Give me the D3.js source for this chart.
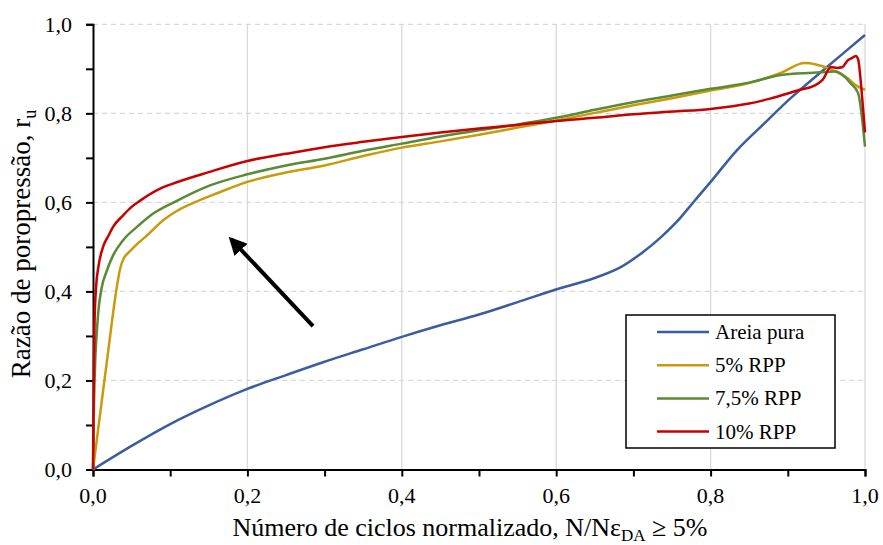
<!DOCTYPE html>
<html>
<head>
<meta charset="utf-8">
<script src="https://d3js.org/d3.v7.min.js"></script>
<style>
  body { margin: 0; background: #fff; }
</style>
</head>
<body>
<svg width="883" height="545"></svg>
<script>
// normalized cycles (x) and pore pressure ratio (y)
var areiaX = [0, 0.05, 0.1, 0.15, 0.2, 0.25, 0.3, 0.35, 0.4, 0.45, 0.5, 0.55, 0.605, 0.648, 0.683, 0.713, 0.734, 0.756, 0.778, 0.802, 0.834, 0.87, 0.903, 0.95, 1.0];
var areiaY = [0, 0.053, 0.102, 0.144, 0.181, 0.212, 0.242, 0.27, 0.298, 0.324, 0.348, 0.376, 0.407, 0.429, 0.454, 0.489, 0.519, 0.556, 0.601, 0.65, 0.717, 0.778, 0.833, 0.903, 0.976];

var rpp5X = [0, 0.01, 0.02, 0.03, 0.035, 0.04, 0.046, 0.055, 0.07, 0.091, 0.108, 0.137, 0.16, 0.2, 0.25, 0.3, 0.35, 0.4, 0.45, 0.5, 0.55, 0.6, 0.65, 0.7, 0.75, 0.8, 0.85, 0.891, 0.922, 0.954, 0.975, 0.991, 1.0];
var rpp5Y = [0, 0.135, 0.27, 0.40, 0.45, 0.475, 0.487, 0.503, 0.526, 0.56, 0.58, 0.604, 0.62, 0.646, 0.667, 0.683, 0.704, 0.723, 0.737, 0.752, 0.768, 0.784, 0.801, 0.818, 0.834, 0.851, 0.868, 0.891, 0.913, 0.9, 0.882, 0.86, 0.853];

var rpp75X = [0, 0.001, 0.003, 0.0048, 0.007, 0.011, 0.018, 0.026, 0.039, 0.057, 0.078, 0.108, 0.15, 0.2, 0.25, 0.3, 0.35, 0.4, 0.45, 0.5, 0.55, 0.6, 0.65, 0.7, 0.75, 0.8, 0.85, 0.891, 0.933, 0.962, 0.971, 0.981, 0.991, 1.0];
var rpp75Y = [0, 0.12, 0.25, 0.305, 0.357, 0.406, 0.447, 0.481, 0.515, 0.545, 0.575, 0.603, 0.637, 0.663, 0.683, 0.698, 0.716, 0.732, 0.748, 0.762, 0.775, 0.79, 0.808, 0.825, 0.84, 0.855, 0.869, 0.886, 0.891, 0.894, 0.886, 0.868, 0.846, 0.725];

var rpp10X = [0, 0.001, 0.002, 0.004, 0.007, 0.013, 0.02, 0.026, 0.039, 0.05, 0.061, 0.087, 0.1, 0.15, 0.2, 0.25, 0.3, 0.35, 0.4, 0.45, 0.5, 0.55, 0.6, 0.65, 0.7, 0.75, 0.8, 0.85, 0.877, 0.916, 0.933, 0.945, 0.956, 0.964, 0.971, 0.977, 0.983, 0.988, 0.991, 0.996, 1.0];
var rpp10Y = [0, 0.2, 0.33, 0.41, 0.455, 0.5, 0.525, 0.545, 0.571, 0.59, 0.604, 0.631, 0.64, 0.668, 0.693, 0.709, 0.724, 0.736, 0.747, 0.757, 0.766, 0.774, 0.783, 0.79, 0.798, 0.804, 0.81, 0.822, 0.833, 0.853, 0.861, 0.875, 0.904, 0.902, 0.904, 0.918, 0.924, 0.929, 0.922, 0.842, 0.757];

var seriesNames = ["Areia pura", "5% RPP", "7,5% RPP", "10% RPP"];
var seriesColors = ["#3a5da0", "#c99a0a", "#5a8a35", "#c80000"];
var seriesX = [areiaX, rpp5X, rpp75X, rpp10X];
var seriesY = [areiaY, rpp5Y, rpp75Y, rpp10Y];

var tickValues = [0, 0.1, 0.2, 0.3, 0.4, 0.5, 0.6, 0.7, 0.8, 0.9, 1.0];
var labelValues = [0, 0.2, 0.4, 0.6, 0.8, 1.0];

// arrow annotation, data coordinates (tail, head)
var arrowFrom = [0.285, 0.322];
var arrowTo = [0.179, 0.517];

var serif = "'Liberation Serif'";
var svg = d3.select("svg");
var x = d3.scaleLinear().domain([0, 1]).range([93, 865]);
var y = d3.scaleLinear().domain([0, 1]).range([469.5, 24.3]);
var fmt = function(d) { return d3.format(".1f")(d).replace(".", ","); };

// grid
svg.append("g").selectAll("line")
  .data(labelValues.slice(1))
  .enter().append("line")
  .attr("x1", d => x(d)).attr("x2", d => x(d))
  .attr("y1", y(0)).attr("y2", y(1))
  .attr("stroke", "#d9d9d9").attr("stroke-width", 1.3);

svg.append("g").selectAll("line")
  .data(labelValues.slice(1))
  .enter().append("line")
  .attr("x1", x(0)).attr("x2", x(1))
  .attr("y1", d => y(d)).attr("y2", d => y(d))
  .attr("stroke", "#d9d9d9").attr("stroke-width", 1.3)
  .attr("stroke-dasharray", "5,4");

// axes
var xAxis = svg.append("g").attr("transform", "translate(0," + y(0) + ")")
  .call(d3.axisBottom(x).tickValues(tickValues).tickSize(7).tickFormat(""));
var yAxis = svg.append("g").attr("transform", "translate(" + x(0) + ",0)")
  .call(d3.axisLeft(y).tickValues(tickValues).tickSize(7).tickFormat(""));
[xAxis, yAxis].forEach(function(a) {
  a.select(".domain").attr("stroke", "#000").attr("stroke-width", 2);
  a.selectAll(".tick line").attr("stroke", "#000").attr("stroke-width", 2);
});

svg.append("g").selectAll("text")
  .data(labelValues)
  .enter().append("text")
  .attr("x", d => x(d)).attr("y", y(0) + 33)
  .attr("text-anchor", "middle")
  .style("font-family", serif).style("font-size", "22px")
  .text(fmt);

svg.append("g").selectAll("text")
  .data(labelValues)
  .enter().append("text")
  .attr("x", x(0) - 21).attr("y", d => y(d) + 7.5)
  .attr("text-anchor", "end")
  .style("font-family", serif).style("font-size", "22px")
  .text(fmt);

// axis titles
var xt = svg.append("text")
  .attr("x", 470).attr("y", 536)
  .attr("text-anchor", "middle")
  .style("font-family", serif).style("font-size", "26px");
xt.append("tspan").text("Número de ciclos normalizado, N/Nε");
xt.append("tspan").attr("dy", 5).style("font-size", "17px").text("DA");
xt.append("tspan").attr("dy", -5).text(" ≥ 5%");

var yt = svg.append("text")
  .attr("transform", "translate(30,244) rotate(-90)")
  .attr("text-anchor", "middle")
  .style("font-family", serif).style("font-size", "27px");
yt.append("tspan").text("Razão de poropressão, r");
yt.append("tspan").attr("dy", 6).style("font-size", "18px").text("u");

// curves
var line = d3.line()
  .x(d => x(d[0]))
  .y(d => y(d[1]))
  .curve(d3.curveMonotoneX);
var smooth = d3.line()
  .x(d => x(d[0]))
  .y(d => y(d[1]))
  .curve(d3.curveCatmullRom.alpha(0.5));

svg.append("g").selectAll("path")
  .data(seriesX.map((xs, i) => xs.map((v, j) => [v, seriesY[i][j]])))
  .enter().append("path")
  .attr("d", (d, i) => i === 0 ? smooth(d) : line(d))
  .attr("fill", "none")
  .attr("stroke", (d, i) => seriesColors[i])
  .attr("stroke-width", 2.5)
  .attr("stroke-linejoin", "round");

// arrow
svg.append("defs").append("marker")
  .attr("id", "head")
  .attr("viewBox", "0 0 10 10")
  .attr("refX", 8).attr("refY", 5)
  .attr("markerWidth", 4.5).attr("markerHeight", 4.5)
  .attr("orient", "auto")
  .append("path").attr("d", "M0,0 L10,5 L0,10 z").attr("fill", "#000");

svg.append("line")
  .attr("x1", x(arrowFrom[0])).attr("y1", y(arrowFrom[1]))
  .attr("x2", x(arrowTo[0])).attr("y2", y(arrowTo[1]))
  .attr("stroke", "#000").attr("stroke-width", 4)
  .attr("marker-end", "url(#head)");

// legend
var legend = svg.append("g").attr("transform", "translate(626,315)");
legend.append("rect")
  .attr("width", 209).attr("height", 133)
  .attr("fill", "#fff").attr("stroke", "#000").attr("stroke-width", 1.5);
var rows = legend.selectAll("g.row")
  .data(seriesNames)
  .enter().append("g")
  .attr("class", "row")
  .attr("transform", (d, i) => "translate(0," + (17 + i * 33.2) + ")");
rows.append("line")
  .attr("x1", 31).attr("x2", 83)
  .attr("stroke", (d, i) => seriesColors[i]).attr("stroke-width", 2.5);
rows.append("text")
  .attr("x", 89).attr("y", 7)
  .style("font-family", serif).style("font-size", "21px")
  .text(d => d);
</script>
</body>
</html>
